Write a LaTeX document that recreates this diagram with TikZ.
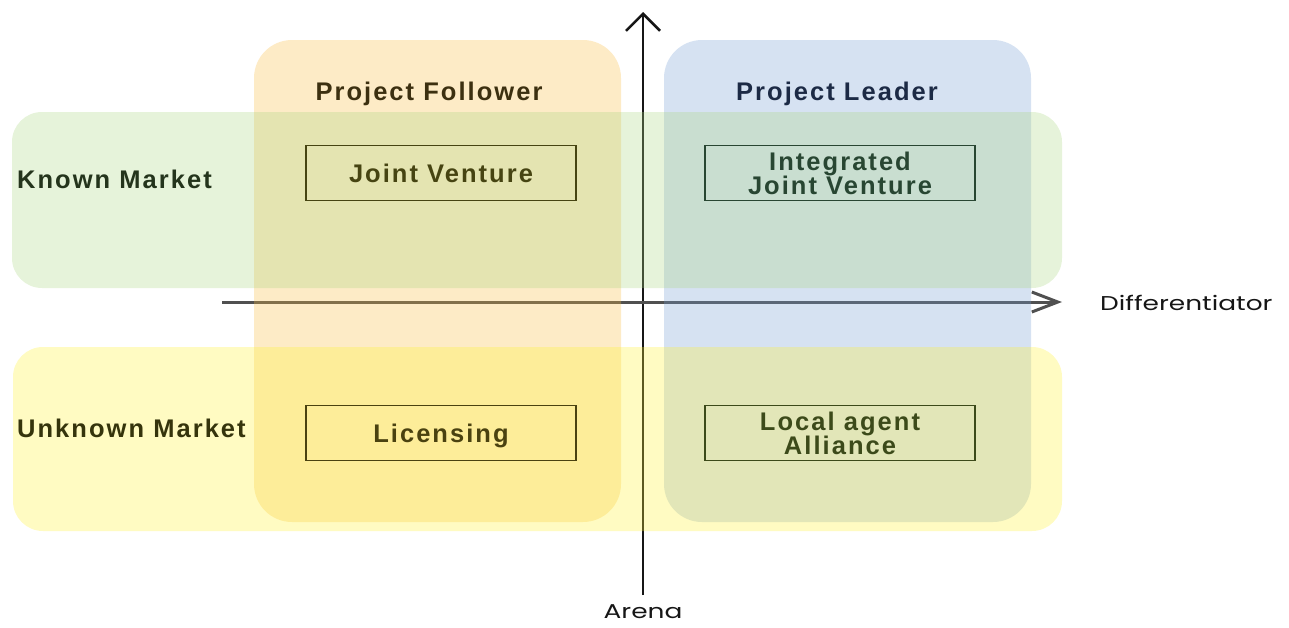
\documentclass[tikz,border=0pt]{standalone}
\usepackage{fontspec}
\setmainfont{Liberation Sans}
\newfontfamily\headfont{Liberation Sans}[LetterSpace=8]
\newfontfamily\axisfont{Poppins}[FakeStretch=1.32]
\usetikzlibrary{arrows.meta}

\definecolor{bandgreen}{RGB}{172,215,132}
\definecolor{bandyellow}{RGB}{255,242,52}
\definecolor{colorange}{RGB}{248,188,65}
\definecolor{colblue}{RGB}{118,158,212}
\definecolor{ink}{RGB}{22,22,22}
\definecolor{axisgray}{RGB}{80,80,80}
% text tints for each area
\definecolor{inkfollower}{RGB}{60,48,16}
\definecolor{inkleader}{RGB}{28,42,69}
\definecolor{inkknown}{RGB}{36,52,28}
\definecolor{inkunknown}{RGB}{53,52,12}
\definecolor{inkjv}{RGB}{70,68,18}
\definecolor{inkijv}{RGB}{40,70,50}
\definecolor{inklic}{RGB}{74,66,16}
\definecolor{inklaa}{RGB}{60,74,26}

\begin{document}
\begin{tikzpicture}[x=1pt,y=-1pt,
  region/.style={fill opacity=0.3, draw=none},
  heading/.style={font=\headfont\bfseries\fontsize{25.5}{25}\selectfont, inner sep=0pt},
  choice/.style={line width=1.8pt, minimum width=270pt, minimum height=55pt,
    inner sep=0pt, align=center,
    font=\headfont\bfseries\fontsize{25.5}{24}\selectfont},
  axislabel/.style={font=\axisfont\fontsize{20}{24}\selectfont, text=ink, inner sep=0pt}]

\useasboundingbox (0,0) rectangle (1289,627);

% axes
\coordinate (ytop) at (643,12);
\coordinate (ybot) at (643,595);
\coordinate (xleft) at (222,302);
\coordinate (xright) at (1062,302);
\draw[line width=2.5pt, ink, -{Straight Barb[length=17pt,width=34pt]}] (ybot) -- (ytop);
\draw[line width=3pt, axisgray, -{Straight Barb[length=26pt,width=20pt]}] (xleft) -- (xright);

\node[axislabel, anchor=west] (diff) at (1100,303) {Differentiator};
\node[axislabel] (arena) at (643,612) {Arena};

% translucent column and row areas
\fill[region, colorange, rounded corners=38pt] (254,40) rectangle (621,522);
\fill[region, colblue, rounded corners=38pt] (664,40) rectangle (1031,522);
\fill[region, bandgreen, rounded corners=30pt] (12,112) rectangle (1062,288);
\fill[region, bandyellow, rounded corners=30pt] (13,347) rectangle (1062,531);

% row and column headings
\node[heading, text=inkfollower, anchor=base] (follower) at (429,100) {Project Follower};
\node[heading, text=inkleader, anchor=base] (leader)   at (837,100) {Project Leader};
\node[heading, text=inkknown, anchor=base west] (known)   at (17,188) {Known Market};
\node[heading, text=inkunknown, anchor=base west] (unknown) at (17,437) {Unknown Market};

% strategy boxes
\node[choice, draw=inkjv, text=inkjv, text depth=0pt] (jv)  at (441,173) {Joint Venture};
\node[choice, draw=inkijv, text=inkijv] (ijv) at (840,173) {Integrated\\Joint Venture};
\node[choice, draw=inklic, text=inklic, text depth=0pt] (lic) at (441,433) {Licensing};
\node[choice, draw=inklaa, text=inklaa] (laa) at (840,433) {Local agent\\Alliance};
\end{tikzpicture}
\end{document}
